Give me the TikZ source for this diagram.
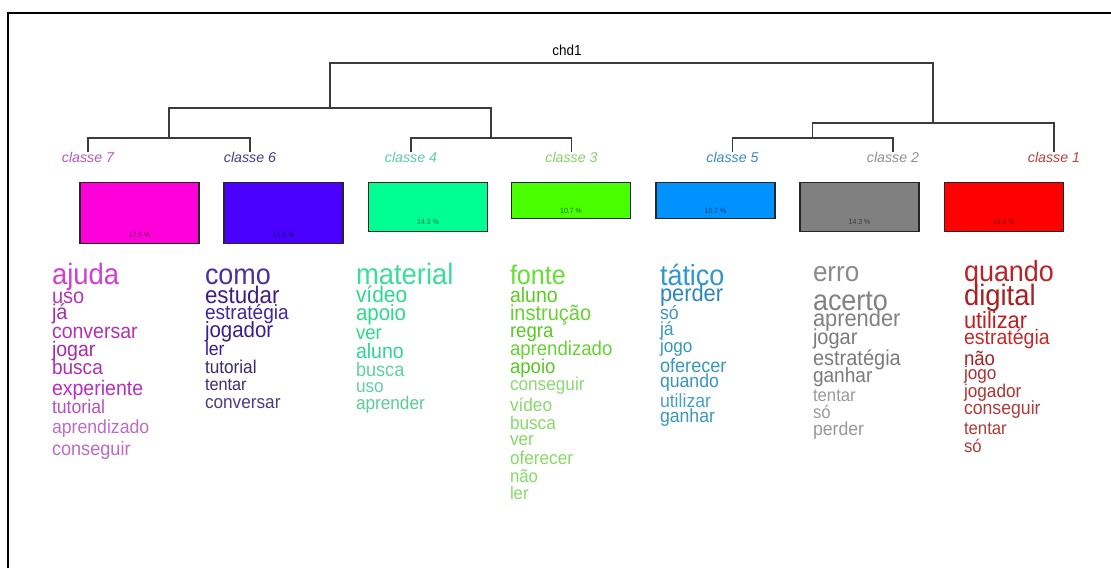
\documentclass[tikz,border=0pt]{standalone}
\usepackage{fontspec}
\setmainfont{Liberation Sans}
\newfontfamily\wf{Liberation Sans}[FakeStretch=0.93]
\usetikzlibrary{calc}
\definecolor{k7}{HTML}{FF00DB}
\definecolor{k6}{HTML}{4900FF}
\definecolor{k4}{HTML}{00FF92}
\definecolor{k3}{HTML}{49FF00}
\definecolor{k5}{HTML}{0092FF}
\definecolor{k2}{HTML}{808080}
\definecolor{k1}{HTML}{FF0000}
\definecolor{cl7}{HTML}{B35AC0}
\definecolor{cl6}{HTML}{4A3A8A}
\definecolor{cl4}{HTML}{5CCCAA}
\definecolor{cl3}{HTML}{8AD06A}
\definecolor{cl5}{HTML}{3A8AC0}
\definecolor{cl2}{HTML}{909090}
\definecolor{cl1}{HTML}{B84040}
\definecolor{dendc}{HTML}{3C3C3C}
\newcommand\wrd[6]{%
  \definecolor{wc#1}{HTML}{#5}%
  \node[wdn, text=wc#1, font=\wf\fontsize{#4}{#4}\selectfont] (#1) at (#2,{#3+0.26*#4}) {#6};}
\tikzset{
  wdn/.style={anchor=base west, inner sep=0pt, outer sep=0pt},
  dend/.style={draw=dendc, line width=1.3pt},
  clab/.style={inner sep=0pt, font=\itshape\fontsize{14.2}{14.2}\selectfont},
  boxn/.style={draw=black!85, line width=1.2pt, minimum width=119pt, anchor=north, inner sep=0pt},
  pct/.style={inner sep=0pt, text=black, text opacity=0.55, font=\wf\fontsize{7.5}{7.5}\selectfont}
}
\begin{document}
\begin{tikzpicture}[x=1pt,y=-1pt]
\fill[white] (0,0) rectangle (1111,568);
\useasboundingbox (0,0) rectangle (1111,568);
\draw[line width=2.5pt, line join=miter] (8,568) -- (8,13) -- (1111,13);

% class labels
\node[clab, text=cl7] (c7) at (88,157) {classe 7};
\node[clab, text=cl6] (c6) at (250,157) {classe 6};
\node[clab, text=cl4] (c4) at (411,157) {classe 4};
\node[clab, text=cl3] (c3) at (571.5,157) {classe 3};
\node[clab, text=cl5] (c5) at (732.5,157) {classe 5};
\node[clab, text=cl2] (c2) at (893,157) {classe 2};
\node[clab, text=cl1] (c1) at (1054,157) {classe 1};

% dendrogram
\coordinate (m76) at (169,138);
\coordinate (m43) at (491,138);
\coordinate (m52) at (812.5,138);
\coordinate (m7643) at (330,108);
\coordinate (m521) at (933,123);
\coordinate (root) at (631,63);
\node[font=\wf\fontsize{14.5}{14.5}\selectfont, inner sep=0pt] (chd) at (567,50) {chd1};
\draw[dend] (c7.north) |- (m76) -| (c6.north);
\draw[dend] (c4.north) |- (m43) -| (c3.north);
\draw[dend] (c5.north) |- (m52) -| (c2.north);
\draw[dend] (m76) |- (m7643) -| (m43);
\draw[dend] (m52) |- (m521) -| (c1.north);
\draw[dend] (m7643) |- (root) -| (m521);

% boxes
\node[boxn, fill=k7, minimum height=61pt] (b7) at (139.5,182) {};
\node[boxn, fill=k6, minimum height=61pt] (b6) at (283.5,182) {};
\node[boxn, fill=k4, minimum height=48.5pt] (b4) at (428,182) {};
\node[boxn, fill=k3, minimum height=36pt] (b3) at (571,182) {};
\node[boxn, fill=k5, minimum height=36pt] (b5) at (715.5,182) {};
\node[boxn, fill=k2, minimum height=48.5pt] (b2) at (859.5,182) {};
\node[boxn, fill=k1, minimum height=48.5pt] (b1) at (1004,182) {};
\node[pct] (p7) at ($(b7.south)+(0,-9.5)$) {17.5 \%};
\node[pct] (p6) at ($(b6.south)+(0,-9.5)$) {17.5 \%};
\node[pct] (p4) at ($(b4.south)+(0,-9.5)$) {14.3 \%};
\node[pct] (p3) at ($(b3.south)+(0,-8.5)$) {10.7 \%};
\node[pct] (p5) at ($(b5.south)+(0,-8.5)$) {10.7 \%};
\node[pct] (p2) at ($(b2.south)+(0,-9.5)$) {14.3 \%};
\node[pct] (p1) at ($(b1.south)+(0,-9.5)$) {14.3 \%};

% class 7
\wrd{w7a}{52}{277}{29.5}{D23ED2}{ajuda}
\wrd{w7b}{52}{298}{21.5}{B437B4}{uso}
\wrd{w7c}{52}{314}{21.5}{A82EAA}{já}
\wrd{w7d}{52}{333}{21}{B232B2}{conversar}
\wrd{w7e}{52}{351}{21}{A42CA8}{jogar}
\wrd{w7f}{52}{369}{20.5}{B030B0}{busca}
\wrd{w7g}{52}{390}{21}{B82EC0}{experiente}
\wrd{w7h}{52}{409}{19}{B552BC}{tutorial}
\wrd{w7i}{52}{429}{19}{C06CC6}{aprendizado}
\wrd{w7j}{52}{450}{19.5}{BF6AC5}{conseguir}

% class 6
\wrd{w6a}{205}{277}{29}{4E309A}{como}
\wrd{w6b}{205}{297}{24}{3E1E86}{estudar}
\wrd{w6c}{205}{314}{20.5}{4426A2}{estratégia}
\wrd{w6d}{205}{332}{22}{3A1C8C}{jogador}
\wrd{w6e}{205}{351}{19}{3A1C92}{ler}
\wrd{w6f}{205}{369}{18.5}{3C2C66}{tutorial}
\wrd{w6g}{205}{386}{17.5}{40306E}{tentar}
\wrd{w6h}{205}{404}{18.5}{4A3A84}{conversar}

% class 4
\wrd{w4a}{356}{277}{29.5}{3EDC9C}{material}
\wrd{w4b}{356}{297}{22.5}{2ED88E}{vídeo}
\wrd{w4c}{356}{315}{22}{2ED88E}{apoio}
\wrd{w4d}{356}{334}{20}{2ED88E}{ver}
\wrd{w4e}{356}{353}{21}{30D490}{aluno}
\wrd{w4f}{356}{371}{19.5}{62D0A2}{busca}
\wrd{w4g}{356}{388}{18.5}{62D0A2}{uso}
\wrd{w4h}{356}{405}{18.5}{5ACC9C}{aprender}

% class 3
\wrd{w3a}{510}{277}{27}{66DD33}{fonte}
\wrd{w3b}{510}{297}{21}{5ACC24}{aluno}
\wrd{w3c}{510}{315}{21.5}{66D232}{instrução}
\wrd{w3d}{510}{332}{20}{58C822}{regra}
\wrd{w3e}{510}{350}{20}{66D232}{aprendizado}
\wrd{w3f}{510}{368}{20}{58C822}{apoio}
\wrd{w3g}{510}{386}{18.5}{8CD874}{conseguir}
\wrd{w3h}{510}{407}{18.5}{86DA66}{vídeo}
\wrd{w3i}{510}{425}{18.5}{86DA66}{busca}
\wrd{w3j}{510}{441}{18.5}{86DA66}{ver}
\wrd{w3k}{510}{460}{18.5}{86DA66}{oferecer}
\wrd{w3l}{510}{478}{18}{86DA66}{não}
\wrd{w3m}{510}{495}{18}{86DA66}{ler}

% class 5
\wrd{w5a}{660}{278}{29}{3098CC}{tático}
\wrd{w5b}{660}{295}{23.5}{2C86BE}{perder}
\wrd{w5c}{660}{315}{19}{3A98C0}{só}
\wrd{w5d}{660}{331}{19}{3A98C0}{já}
\wrd{w5e}{660}{348}{18.5}{3A98C0}{jogo}
\wrd{w5f}{660}{367}{19.5}{3A96BC}{oferecer}
\wrd{w5g}{660}{383}{19}{3A96BC}{quando}
\wrd{w5h}{660}{403}{19}{4AA0C8}{utilizar}
\wrd{w5i}{660}{418}{19}{3A96BC}{ganhar}

% class 2
\wrd{w2a}{813}{274}{28}{8A8A8A}{erro}
\wrd{w2b}{813}{303}{29}{828282}{acerto}
\wrd{w2c}{813}{320}{23.5}{808080}{aprender}
\wrd{w2d}{813}{339}{21.5}{7A7A7A}{jogar}
\wrd{w2e}{813}{360}{21.5}{7C7C7C}{estratégia}
\wrd{w2f}{813}{377}{20.5}{7A7A7A}{ganhar}
\wrd{w2g}{813}{397}{18}{9A9A9A}{tentar}
\wrd{w2h}{813}{414}{18}{9A9A9A}{só}
\wrd{w2i}{813}{431}{19}{989898}{perder}

% class 1
\wrd{w1a}{964}{274}{29}{BB2424}{quando}
\wrd{w1b}{964}{298}{29.5}{A82020}{digital}
\wrd{w1c}{964}{322}{23.5}{BC2020}{utilizar}
\wrd{w1d}{964}{339}{21}{C42A2A}{estratégia}
\wrd{w1e}{964}{360}{20}{A82222}{não}
\wrd{w1f}{964}{375}{18.5}{B03232}{jogo}
\wrd{w1g}{964}{393}{18.5}{B03232}{jogador}
\wrd{w1h}{964}{410}{19}{B03A3A}{conseguir}
\wrd{w1i}{964}{430}{18}{B03A3A}{tentar}
\wrd{w1j}{964}{448}{18}{B03A3A}{só}
\end{tikzpicture}
\end{document}
